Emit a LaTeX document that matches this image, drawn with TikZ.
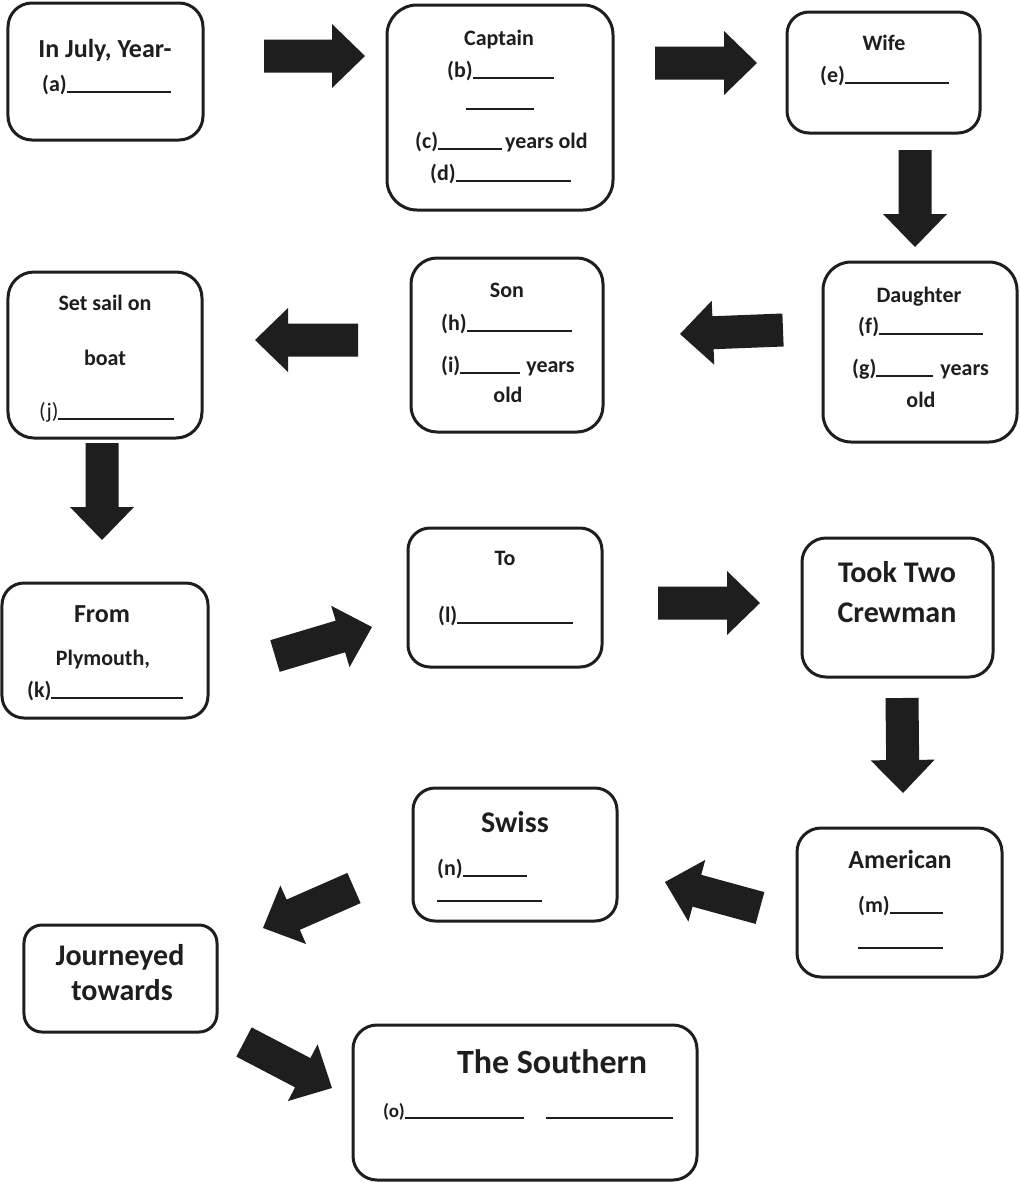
\documentclass[tikz,border=0pt]{standalone}
\usepackage{fontspec}
\setmainfont{Carlito}
\usetikzlibrary{calc}
\definecolor{ink}{HTML}{1E1E1E}
\tikzset{
  box/.style={draw=ink, line width=3bp, rounded corners=24bp, fill=white, inner sep=0pt},
  lbl/.style={inner sep=0pt, text=ink, font=\bfseries\fontsize{22bp}{26bp}\selectfont},
  lblplain/.style={inner sep=0pt, text=ink, font=\fontsize{22bp}{26bp}\selectfont},
  lblsmall/.style={inner sep=0pt, text=ink, font=\bfseries\fontsize{19bp}{22bp}\selectfont},
  lblmid/.style={inner sep=0pt, text=ink, font=\bfseries\fontsize{26bp}{30bp}\selectfont},
  lblbig/.style={inner sep=0pt, text=ink, font=\bfseries\fontsize{30bp}{34bp}\selectfont},
  lblhuge/.style={inner sep=0pt, text=ink, font=\bfseries\fontsize{34bp}{38bp}\selectfont},
  arrowink/.style={fill=ink}
}
% answer blank of a given width (bp)
\newcommand\blank[1]{\rule[-1.5bp]{#1bp}{1.6bp}}
% thick block arrow: name, tail x, tail y, tip x, tip y (y measured downward)
\newcommand\blockarrow[5]{%
  \coordinate (#1-tail) at (#2,-#3);
  \coordinate (#1-tip) at (#4,-#5);
  \pgfmathsetmacro\baang{atan2((#3)-(#5),(#4)-(#2))}%
  \pgfmathsetmacro\balen{veclen((#4)-(#2),(#5)-(#3))}%
  \fill[arrowink, shift={(#1-tail)}, rotate=\baang]
    (0,-16.5) -- ({\balen-33},-16.5) -- ({\balen-33},-32) -- (\balen,0)
    -- ({\balen-33},32) -- ({\balen-33},16.5) -- (0,16.5) -- cycle;
}
\begin{document}
\begin{tikzpicture}[x=1bp, y=1bp]
\fill[white] (0,0) rectangle (1020,-1183);
\useasboundingbox (0,0) rectangle (1020,-1183);

% ---------- boxes ----------
\node[box, minimum width=195bp, minimum height=137bp] (july) at (105.5,-71.5) {};
\node[box, rounded corners=30bp, minimum width=226bp, minimum height=205bp] (captain) at (500,-107.5) {};
\node[box, rounded corners=22bp, minimum width=193bp, minimum height=121bp] (wife) at (883.5,-72.5) {};
\node[box, rounded corners=28bp, minimum width=194bp, minimum height=180bp] (daughter) at (920,-352) {};
\node[box, rounded corners=26bp, minimum width=192bp, minimum height=174bp] (son) at (507,-345) {};
\node[box, rounded corners=26bp, minimum width=194bp, minimum height=166bp] (sail) at (105,-355) {};
\node[box, rounded corners=22bp, minimum width=206bp, minimum height=135bp] (from) at (105,-650.5) {};
\node[box, rounded corners=22bp, minimum width=194bp, minimum height=139bp] (to) at (505,-597.5) {};
\node[box, rounded corners=24bp, minimum width=191bp, minimum height=139bp] (crew) at (897.5,-607.5) {};
\node[box, rounded corners=24bp, minimum width=205bp, minimum height=149bp] (american) at (899.5,-902.5) {};
\node[box, rounded corners=22bp, minimum width=204bp, minimum height=133bp] (swiss) at (515,-854.5) {};
\node[box, rounded corners=18bp, minimum width=193bp, minimum height=107bp] (journey) at (120.5,-978.5) {};
\node[box, rounded corners=24bp, minimum width=344bp, minimum height=155bp] (southern) at (525,-1102.5) {};

% ---------- texts ----------
\node[lblmid, anchor=base] (july-t) at (105,-57) {In July, Year-};
\node[lbl, anchor=base west] (july-a) at (42,-91) {(a)\blank{104}};

\node[lbl, anchor=base] (captain-t) at (499,-45) {Captain};
\node[lbl, anchor=base west] (captain-b) at (447,-77) {(b)\blank{81}};
\node[lbl, anchor=base west] (captain-b2) at (466,-108) {\blank{68}};
\node[lbl, anchor=base west] (captain-c) at (415,-148) {(c)\blank{64}\hspace{3bp}years old};
\node[lbl, anchor=base west] (captain-d) at (430,-180) {(d)\blank{115}};

\node[lbl, anchor=base] (wife-t) at (884,-50) {Wife};
\node[lbl, anchor=base west] (wife-e) at (820,-82) {(e)\blank{104}};

\node[lbl, anchor=base] (daughter-t) at (919,-302) {Daughter};
\node[lbl, anchor=base west] (daughter-f) at (858,-333) {(f)\blank{104}};
\node[lbl, anchor=base west] (daughter-g) at (852,-375) {(g)\blank{57}\hspace{7bp}years};
\node[lbl, anchor=base] (daughter-o) at (921,-407) {old};

\node[lbl, anchor=base] (son-t) at (507,-297) {Son};
\node[lbl, anchor=base west] (son-h) at (441,-330) {(h)\blank{105}};
\node[lbl, anchor=base west] (son-i) at (441,-372) {(i)\blank{60}\hspace{6bp}years};
\node[lbl, anchor=base] (son-o) at (508,-402) {old};

\node[lbl, anchor=base] (sail-t) at (105,-310) {Set sail on};
\node[lbl, anchor=base] (sail-b) at (105,-365) {boat};
\node[lblplain, anchor=base west] (sail-j) at (39,-418) {(j)\blank{116}};

\node[lblmid, anchor=base] (from-t) at (102,-622) {From};
\node[lbl, anchor=base] (from-p) at (103,-665) {Plymouth,};
\node[lbl, anchor=base west] (from-k) at (27,-697) {(k)\blank{132}};

\node[lbl, anchor=base] (to-t) at (505,-565) {To};
\node[lbl, anchor=base west] (to-l) at (438,-622) {(l)\blank{116}};

\node[lblbig, anchor=base] (crew-t1) at (897,-582) {Took Two};
\node[lblbig, anchor=base] (crew-t2) at (897,-622) {Crewman};

\node[lblmid, anchor=base] (american-t) at (900,-868) {American};
\node[lbl, anchor=base west] (american-m) at (858,-912) {(m)\blank{53}};
\node[lbl, anchor=base west] (american-m2) at (858,-947) {\blank{85}};

\node[lblbig, anchor=base] (swiss-t) at (515,-832) {Swiss};
\node[lbl, anchor=base west] (swiss-n) at (437,-875) {(n)\blank{64}};
\node[lbl, anchor=base west] (swiss-n2) at (437,-900) {\blank{105}};

\node[lblbig, anchor=base] (journey-t1) at (120,-965) {Journeyed};
\node[lblbig, anchor=base] (journey-t2) at (122,-1000) {towards};

\node[lblhuge, anchor=base] (southern-t) at (552,-1073) {The Southern};
\node[lblsmall, anchor=base west] (southern-o) at (383,-1117) {(o)\blank{119}\hspace{22bp}\blank{127}};

% ---------- block arrows ----------
\blockarrow{a1}{264}{56}{365}{56}
\blockarrow{a2}{655}{63}{757}{63}
\blockarrow{a3}{915}{150}{915}{247}
\blockarrow{a4}{783}{330}{680}{334}
\blockarrow{a5}{358}{340}{255}{340}
\blockarrow{a6}{102}{443}{102}{540}
\blockarrow{a7}{275}{656}{372}{627}
\blockarrow{a8}{658}{603}{760}{603}
\blockarrow{a9}{902}{698}{903}{793}
\blockarrow{a10}{760}{908}{665}{882}
\blockarrow{a11}{354}{888}{263}{928}
\blockarrow{a12}{244}{1042}{332}{1088}
\end{tikzpicture}
\end{document}
